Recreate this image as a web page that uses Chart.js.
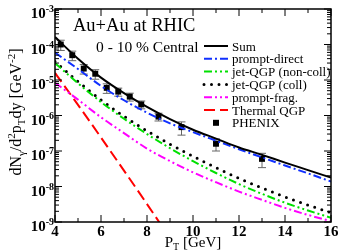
<!DOCTYPE html>
<html>
<head>
<meta charset="utf-8">
<script src="https://cdn.jsdelivr.net/npm/chart.js@4.4.1/dist/chart.umd.min.js"></script>
<style>html,body{margin:0;padding:0;background:#fff}canvas{display:block}</style>
</head>
<body>
<canvas id="c" width="338" height="252"></canvas>
<script>
// photon yield vs pT
const ptGrid = [4, 5, 6, 7, 8, 9, 10, 11, 12, 13, 14, 15, 16];
const sumYield = [1.62e-4, 3.98e-5, 1.17e-5, 4.27e-6, 1.74e-6, 7.9e-7, 3.98e-7, 2.24e-7, 1.26e-7, 7.8e-8, 4.7e-8, 2.9e-8, 1.78e-8];
const promptDirect = [5.9e-5, 2.04e-5, 6.8e-6, 2.69e-6, 1.2e-6, 6.0e-7, 3.4e-7, 1.95e-7, 1.12e-7, 6.6e-8, 3.9e-8, 2.34e-8, 1.38e-8];
const jetNonColl = [3.0e-5, 8.1e-6, 2.4e-6, 8.1e-7, 3.0e-7, 1.2e-7, 5.2e-8, 2.4e-8, 1.17e-8, 6.2e-9, 3.5e-9, 2.1e-9, 1.32e-9];
const jetColl = [3.3e-5, 9.1e-6, 2.75e-6, 9.5e-7, 3.7e-7, 1.55e-7, 7.1e-8, 3.4e-8, 1.7e-8, 9.1e-9, 5.1e-9, 3.0e-9, 1.82e-9];
const promptFrag = [8.3e-6, 2.8e-6, 8.9e-7, 3.2e-7, 1.17e-7, 5.2e-8, 2.5e-8, 1.32e-8, 7.2e-9, 4.2e-9, 2.5e-9, 1.58e-9, 1.05e-9];
const thermalPt = [4, 5, 6, 7, 8, 9];
const thermalQGP = [1.58e-5, 2.0e-6, 2.4e-7, 2.8e-8, 3.2e-9, 3.5e-10];

const phenixPt = [4.25, 4.75, 5.25, 5.75, 6.25, 6.75, 7.25, 7.75, 8.5, 9.5, 11, 13];
const phenixYield = [1.0e-4, 5.0e-5, 2.1e-5, 1.5e-5, 6.0e-6, 4.7e-6, 3.4e-6, 2.05e-6, 9.3e-7, 4.7e-7, 1.6e-7, 6.0e-8];
const phenixErr = [3.2e-5, 1.5e-5, 6.3e-6, 4.5e-6, 1.8e-6, 1.2e-6, 8.5e-7, 5.1e-7, 2.3e-7, 1.9e-7, 6.0e-8, 2.6e-8];

const xTicks = [4, 6, 8, 10, 12, 14, 16];
const yDecades = [-9, -8, -7, -6, -5, -4, -3];

const serif = '"Liberation Serif", "Times New Roman", serif';
const pts = (xs, ys) => xs.map((x, i) => ({ x, y: ys[i] }));

function curve(label, xs, ys, color, dash, width, cap) {
  return {
    label, data: pts(xs, ys), showLine: true, borderColor: color, backgroundColor: color,
    borderWidth: width || 2, borderDash: dash, borderCapStyle: cap || 'butt',
    pointRadius: 0, cubicInterpolationMode: 'monotone', fill: false,
  };
}

const datasets = [
  curve('Sum', ptGrid, sumYield, '#000000', [], 2),
  curve('prompt-direct', ptGrid, promptDirect, '#1030ff', [8, 3, 2, 3], 2),
  curve('jet-QGP (non-coll)', ptGrid, jetNonColl, '#00e000', [8, 3, 2, 3, 2, 3], 2),
  curve('jet-QGP (coll)', ptGrid, jetColl, '#000000', [0, 7.5], 3, 'round'),
  curve('prompt-frag.', ptGrid, promptFrag, '#ff00ff', [8, 3, 2, 3, 2, 3], 2),
  curve('Thermal QGP', thermalPt, thermalQGP, '#ff0000', [11, 5], 2),
  {
    label: 'PHENIX', data: pts(phenixPt, phenixYield), showLine: false,
    pointStyle: 'rect', pointRadius: 4.2, backgroundColor: '#000', borderColor: '#000', borderWidth: 0,
  },
];

function richText(ctx, runs, x, y, align) {
  let w = 0;
  const font = r => (r[3] ? 'bold ' : '') + r[1] + 'px ' + serif;
  runs.forEach(r => { ctx.font = font(r); w += ctx.measureText(r[0]).width; });
  let cx = align === 'center' ? x - w / 2 : align === 'right' ? x - w : x;
  runs.forEach(r => {
    ctx.font = font(r);
    ctx.fillText(r[0], cx, y + r[2]);
    cx += ctx.measureText(r[0]).width;
  });
}

const figure = {
  id: 'figure',
  beforeDatasetsDraw(chart) {
    const { ctx, scales: { x, y } } = chart;
    ctx.save();
    ctx.strokeStyle = '#666';
    ctx.lineWidth = 1;
    phenixPt.forEach((p, i) => {
      const px = x.getPixelForValue(p);
      const hi = y.getPixelForValue(phenixYield[i] + phenixErr[i]);
      const lo = y.getPixelForValue(phenixYield[i] - phenixErr[i]);
      ctx.beginPath();
      ctx.moveTo(px, hi); ctx.lineTo(px, lo);
      ctx.moveTo(px - 4, hi); ctx.lineTo(px + 4, hi);
      ctx.moveTo(px - 4, lo); ctx.lineTo(px + 4, lo);
      ctx.stroke();
    });
    ctx.restore();
  },
  afterDraw(chart) {
    const { ctx, chartArea: a, scales: { x, y } } = chart;
    ctx.save();
    ctx.fillStyle = '#000';
    ctx.strokeStyle = '#000';

    // frame and inward ticks
    ctx.lineWidth = 1.5;
    ctx.strokeRect(a.left, a.top, a.right - a.left, a.bottom - a.top);
    ctx.lineWidth = 1;
    ctx.beginPath();
    for (let v = 4; v <= 16; v++) {
      const px = x.getPixelForValue(v);
      const len = v % 2 === 0 ? 7 : 4;
      ctx.moveTo(px, a.bottom); ctx.lineTo(px, a.bottom - len);
      ctx.moveTo(px, a.top); ctx.lineTo(px, a.top + len);
    }
    yDecades.forEach(d => {
      for (let m = 1; m <= 9; m++) {
        if (d === -3 && m > 1) break;
        const py = y.getPixelForValue(m * Math.pow(10, d));
        const len = m === 1 ? 7 : 4;
        ctx.moveTo(a.left, py); ctx.lineTo(a.left + len, py);
        ctx.moveTo(a.right, py); ctx.lineTo(a.right - len, py);
      }
    });
    ctx.stroke();

    // tick labels
    ctx.textBaseline = 'alphabetic';
    ctx.textAlign = 'left';
    xTicks.forEach(v => {
      richText(ctx, [[String(v), 15, 0, true]], x.getPixelForValue(v), a.bottom + 14, 'center');
    });
    yDecades.forEach(d => {
      const py = y.getPixelForValue(Math.pow(10, d));
      richText(ctx, [['10', 15, 0, true], [String(d), 10, -6, true]], a.left - 1, py + 9, 'right');
    });

    // axis titles
    richText(ctx, [['P', 15, 0], ['T', 10, 3], [' [GeV]', 15, 0]], 193, 247, 'center');
    ctx.save();
    ctx.translate(21, 112);
    ctx.rotate(-Math.PI / 2);
    richText(ctx, [['dN', 16, 0], ['\u03b3', 11, 4], ['/d', 16, 0], ['2', 11, -6], ['p', 16, 0], ['T', 11, 4],
      ['dy [GeV', 16, 0], ['-2', 11, -6], [']', 16, 0]], 0, 0, 'center');
    ctx.restore();

    // annotations
    richText(ctx, [['Au+Au at RHIC', 18.5, 0]], 73, 31, 'left');
    richText(ctx, [['0 - 10 % Central', 15.5, 0]], 96, 52, 'left');

    // legend
    chart.data.datasets.forEach((ds, i) => {
      const ly = 46 + i * 12.8;
      if (ds.showLine) {
        ctx.save();
        ctx.strokeStyle = ds.borderColor;
        ctx.lineWidth = ds.borderWidth;
        ctx.lineCap = ds.borderCapStyle;
        ctx.setLineDash(ds.borderDash);
        ctx.beginPath();
        ctx.moveTo(204, ly); ctx.lineTo(228, ly);
        ctx.stroke();
        ctx.restore();
      } else {
        ctx.fillRect(213, ly - 3, 6, 6);
      }
      ctx.fillStyle = '#000';
      richText(ctx, [[ds.label, 13, 0]], 232, ly + 4.5, 'left');
    });
    ctx.restore();
  },
};

new Chart(document.getElementById('c').getContext('2d'), {
  type: 'scatter',
  data: { datasets },
  options: {
    responsive: false,
    animation: false,
    devicePixelRatio: 1,
    layout: { padding: { left: 55, right: 7, top: 9, bottom: 30 } },
    plugins: { legend: { display: false }, tooltip: { enabled: false } },
    scales: {
      x: { type: 'linear', min: 4, max: 16, display: false },
      y: { type: 'logarithmic', min: 1e-9, max: 1e-3, display: false },
    },
  },
  plugins: [figure],
});
</script>
</body>
</html>
